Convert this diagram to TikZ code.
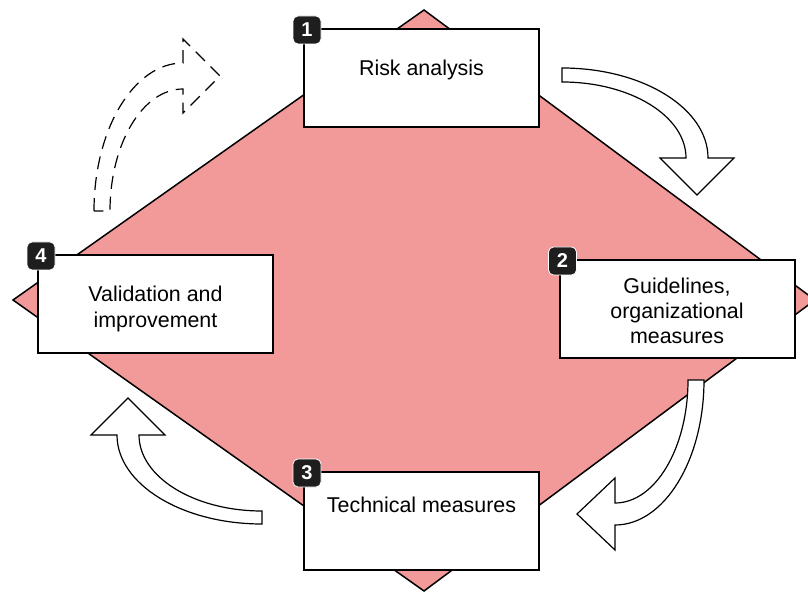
\documentclass[tikz,border=0pt]{standalone}
\usepackage{fontspec}
\setmainfont{Liberation Sans}
\definecolor{diamondpink}{RGB}{241,154,153}
\definecolor{badgeblack}{RGB}{30,30,30}
\newcommand{\boxfont}{\fontsize{21.4}{25.3}\selectfont}

\begin{document}
\begin{tikzpicture}[x=1pt, y=1pt,
        box/.style = {draw, fill=white, line width=2pt, minimum width=235pt, minimum height=98pt, inner sep=0pt},
        txt/.style = {inner sep=0pt, align=center, font=\boxfont},
        badge/.style = {fill=badgeblack, draw=white, line width=0.8pt, rounded corners=5pt, minimum size=28pt, inner sep=0pt, text=white, font=\fontsize{20}{20}\selectfont\bfseries},
        blockarrow/.style = {draw, fill=white, line width=1.2pt, line join=miter}]
        \clip (0,0) rectangle (808,592);
        \draw[fill=diamondpink, line width=1.5pt] (424,582) -- (815,292) -- (424,1) -- (13,292) -- cycle;

        \draw[blockarrow] (562,524) arc (90:0:146 and 90) -- (734,434) -- (697,397) -- (660,434) -- (686,434) arc (0:90:124 and 76) -- cycle;
        \draw[blockarrow] (704,212) arc (0:-90:89 and 145) -- (615,42) -- (577,78) -- (615,114) -- (615,89) arc (-90:0:73 and 123) -- cycle;
        \draw[blockarrow] (262,68) arc (-90:-180:145 and 89) -- (91,157) -- (128,194) -- (165,157) -- (139,157) arc (180:270:123 and 76) -- cycle;
        \draw[blockarrow, dash pattern=on 13pt off 8pt] (94,381) arc (180:90:89 and 148) -- (183,553) -- (220,516) -- (183,479) -- (183,503) arc (90:180:73 and 122) -- cycle;

        \node[box] (risk) at (421.5,514) {};
        \node[box] (guide) at (677,283) {};
        \node[box] (tech) at (421.5,71) {};
        \node[box] (valid) at (155.5,288) {};
        \node[txt, anchor=base] (risktxt) at ([yshift=2pt]risk.center) {Risk analysis};
        \node[txt] (guidetxt) at ([yshift=-2pt]guide.center) {Guidelines,\\organizational\\measures};
        \node[txt, anchor=base] (techtxt) at ([yshift=9pt]tech.center) {Technical measures};
        \node[txt] (validtxt) at ([yshift=-5pt]valid.center) {Validation and\\improvement};

        \node[badge] (b1) at ([shift={(4,-2)}]risk.north west) {1};
        \node[badge] (b2) at ([shift={(4,-2)}]guide.north west) {2};
        \node[badge] (b3) at ([shift={(4,-2)}]tech.north west) {3};
        \node[badge] (b4) at ([shift={(4,-2)}]valid.north west) {4};
\end{tikzpicture}
\end{document}
